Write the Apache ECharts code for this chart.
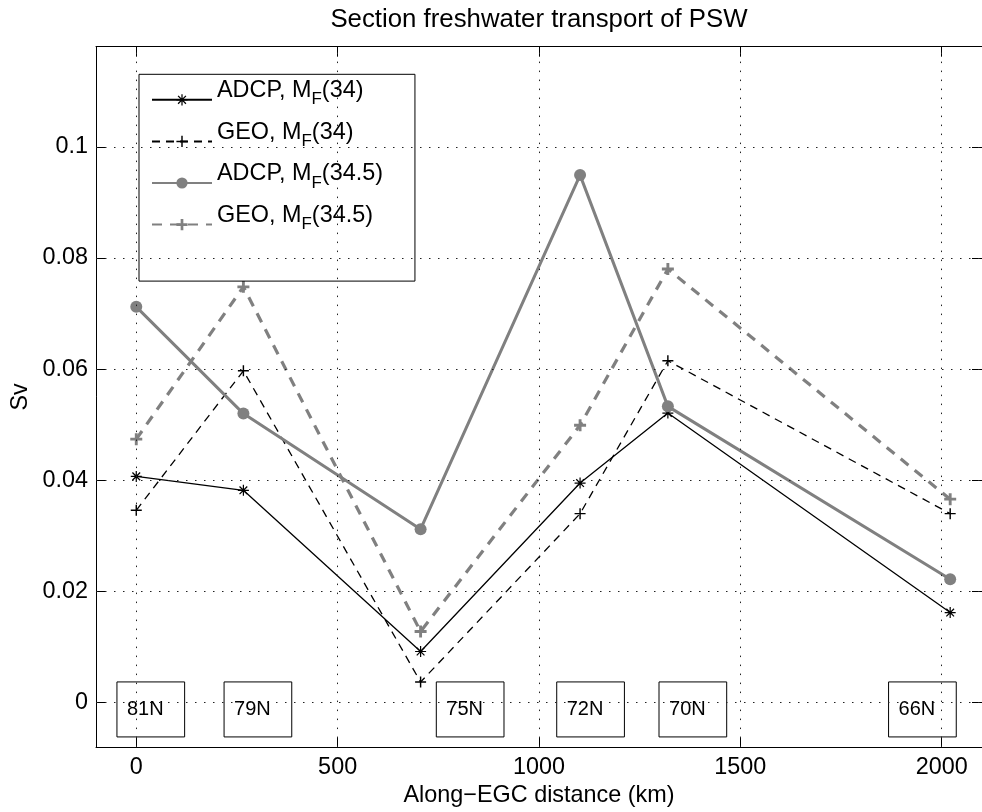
<!DOCTYPE html>
<html><head><meta charset="utf-8">
<script src="https://cdn.jsdelivr.net/npm/echarts@6/dist/echarts.min.js"></script>
<style>html,body{margin:0;padding:0;background:#fff}#c{width:982px;height:812px}</style>
</head><body><div id="c"></div>
<script>
// ---- data ----
const stationKm = [0, 266, 706, 1102, 1320, 2021];
const adcp34  = [0.0407, 0.0382, 0.0092, 0.0395, 0.0521, 0.0162];
const geo34   = [0.0346, 0.0597, 0.0037, 0.0340, 0.0615, 0.0340];
const adcp345 = [0.0712, 0.0520, 0.0312, 0.0949, 0.0533, 0.0222];
const geo345  = [0.0474, 0.0748, 0.0128, 0.0499, 0.0780, 0.0366];
const stationNames = ['81N', '79N', '75N', '72N', '70N', '66N'];
const stationLabelKm = [-48, 218, 745, 1044, 1298, 1868];
const xTicks = [0, 500, 1000, 1500, 2000];
const xTickLabels = ['0', '500', '1000', '1500', '2000'];
const yTicks = [0, 0.02, 0.04, 0.06, 0.08, 0.1];
const yTickLabels = ['0', '0.02', '0.04', '0.06', '0.08', '0.1'];
const seriesNames = ['ADCP, MF(34)', 'GEO, MF(34)', 'ADCP, MF(34.5)', 'GEO, MF(34.5)'];
const legendLabels = ['{m|ADCP, M}{s|F}{m|(34)}', '{m|GEO, M}{s|F}{m|(34)}', '{m|ADCP, M}{s|F}{m|(34.5)}', '{m|GEO, M}{s|F}{m|(34.5)}'];
const titleText = 'Section freshwater transport of PSW';
const xName = 'Along\u2212EGC distance (km)';
const yName = 'Sv';

// ---- styling ----
const FONT = 'Liberation Sans';
const GRAY = '#808080';
const asterisk = 'path://M8.9 0L11.1 0L11.1 20L8.9 20Z M0 8.9L20 8.9L20 11.1L0 11.1Z M2.2 3.8L3.8 2.2L17.8 16.2L16.2 17.8Z M16.2 2.2L17.8 3.8L3.8 17.8L2.2 16.2Z';
const plusThin = 'path://M8.7 0L11.3 0L11.3 20L8.7 20Z M0 8.7L20 8.7L20 11.3L0 11.3Z';
const plusThick = 'path://M7.6 0L12.4 0L12.4 20L7.6 20Z M0 7.6L20 7.6L20 12.4L0 12.4Z';

function lookup(ticks, labels) {
  return function (v) {
    for (let i = 0; i < ticks.length; i++) if (Math.abs(ticks[i] - v) < 1e-9) return labels[i];
    return '';
  };
}
const zip = (xs, ys) => xs.map((x, i) => [x, ys[i]]);

const gridLineStyle = { color: '#222', width: 1, type: [1.5, 7.5] };
const axisFont = { fontFamily: FONT, fontSize: 23.4, color: '#000' };

const chart = echarts.init(document.getElementById('c'), null, { renderer: 'canvas' });
chart.setOption({
  animation: false,
  backgroundColor: '#fff',
  grid: { left: 96, top: 46.7, right: -3.3, bottom: 64.3 },
  xAxis: [{
    type: 'value', position: 'bottom', min: -100, max: 2100,
    name: xName, nameLocation: 'middle', nameGap: 35, nameTextStyle: axisFont,
    axisLine: { show: true, onZero: false, lineStyle: { color: '#000', width: 1 } },
    axisTick: { show: true, inside: true, length: 10, customValues: xTicks, lineStyle: { color: '#000' } },
    axisLabel: { show: true, margin: 9, customValues: xTicks, formatter: lookup(xTicks, xTickLabels), ...axisFont },
    splitLine: { show: false }
  }, {
    type: 'value', position: 'top', min: -100, max: 2100,
    name: titleText, nameLocation: 'middle', nameGap: 14,
    nameTextStyle: { fontFamily: FONT, fontSize: 25.8, color: '#000' },
    axisLine: { show: true, onZero: false, lineStyle: { color: '#000', width: 1 } },
    axisTick: { show: true, inside: true, length: 10, customValues: xTicks, lineStyle: { color: '#000' } },
    axisLabel: { show: false },
    splitLine: { show: false }
  }],
  yAxis: [{
    type: 'value', position: 'left', min: -0.008, max: 0.118,
    name: yName, nameLocation: 'middle', nameGap: 58, nameRotate: 90, nameTextStyle: axisFont,
    axisLine: { show: true, onZero: false, lineStyle: { color: '#000', width: 1 } },
    axisTick: { show: true, inside: true, length: 10, customValues: yTicks, lineStyle: { color: '#000' } },
    axisLabel: { show: true, margin: 8, customValues: yTicks, formatter: lookup(yTicks, yTickLabels), ...axisFont },
    splitLine: { show: false }
  }, {
    type: 'value', position: 'right', min: -0.008, max: 0.118,
    axisLine: { show: true, onZero: false, lineStyle: { color: '#000', width: 1 } },
    axisTick: { show: true, inside: true, length: 10, customValues: yTicks, lineStyle: { color: '#000' } },
    axisLabel: { show: false },
    splitLine: { show: false }
  }],
  legend: {
    orient: 'vertical', left: 139, top: 74.3,
    padding: [5, 32, 36, 12],
    itemWidth: 60, itemHeight: 14, itemGap: 0.6,
    backgroundColor: '#fff', borderColor: '#000', borderWidth: 1,
    data: seriesNames,
    formatter: name => legendLabels[seriesNames.indexOf(name)],
    textStyle: {
      fontFamily: FONT, fontSize: 23.4, color: '#000',
      rich: {
        m: { fontFamily: FONT, fontSize: 23.4, color: '#000', lineHeight: 23.4, padding: [0, 0, 18, 0] },
        s: { fontFamily: FONT, fontSize: 17, color: '#000', lineHeight: 17 }
      }
    }
  },
  series: [
    {
      type: 'line', name: 'grid', data: [], z: 1, silent: true,
      markLine: {
        silent: true, symbol: ['none', 'none'], label: { show: false }, animation: false,
        lineStyle: gridLineStyle,
        data: xTicks.map(v => ({ xAxis: v })).concat(yTicks.map(v => ({ yAxis: v })))
      }
    },
    {
      type: 'line', name: seriesNames[0], data: zip(stationKm, adcp34), z: 3,
      symbol: asterisk, symbolSize: 11, showSymbol: true,
      itemStyle: { color: '#000' }, lineStyle: { color: '#000', width: 1.3 }
    },
    {
      type: 'line', name: seriesNames[1], data: zip(stationKm, geo34), z: 3,
      symbol: plusThin, symbolSize: 11, showSymbol: true,
      itemStyle: { color: '#000' }, lineStyle: { color: '#000', width: 1.3, type: [8, 6] }
    },
    {
      type: 'line', name: seriesNames[2], data: zip(stationKm, adcp345), z: 3,
      symbol: 'circle', symbolSize: 12, showSymbol: true,
      itemStyle: { color: GRAY }, lineStyle: { color: GRAY, width: 3 }
    },
    {
      type: 'line', name: seriesNames[3], data: zip(stationKm, geo345), z: 3,
      symbol: plusThick, symbolSize: 12, showSymbol: true,
      itemStyle: { color: GRAY }, lineStyle: { color: GRAY, width: 3.2, type: [10, 8] }
    },
    {
      type: 'scatter', name: 'stations', z: 4, silent: true,
      data: stationLabelKm.map((x, i) => ({ value: [x, 0], name: stationNames[i] })),
      symbolSize: 0,
      itemStyle: { opacity: 1, color: '#000' },
      label: {
        show: true, position: 'right', distance: 0, offset: [0, 6.8],
        formatter: p => p.name,
        fontFamily: FONT, fontSize: 20, lineHeight: 20, color: '#000', opacity: 1,
        borderColor: '#000', borderWidth: 1, padding: [11, 21, 24, 10]
      }
    }
  ]
});
</script>
</body></html>
